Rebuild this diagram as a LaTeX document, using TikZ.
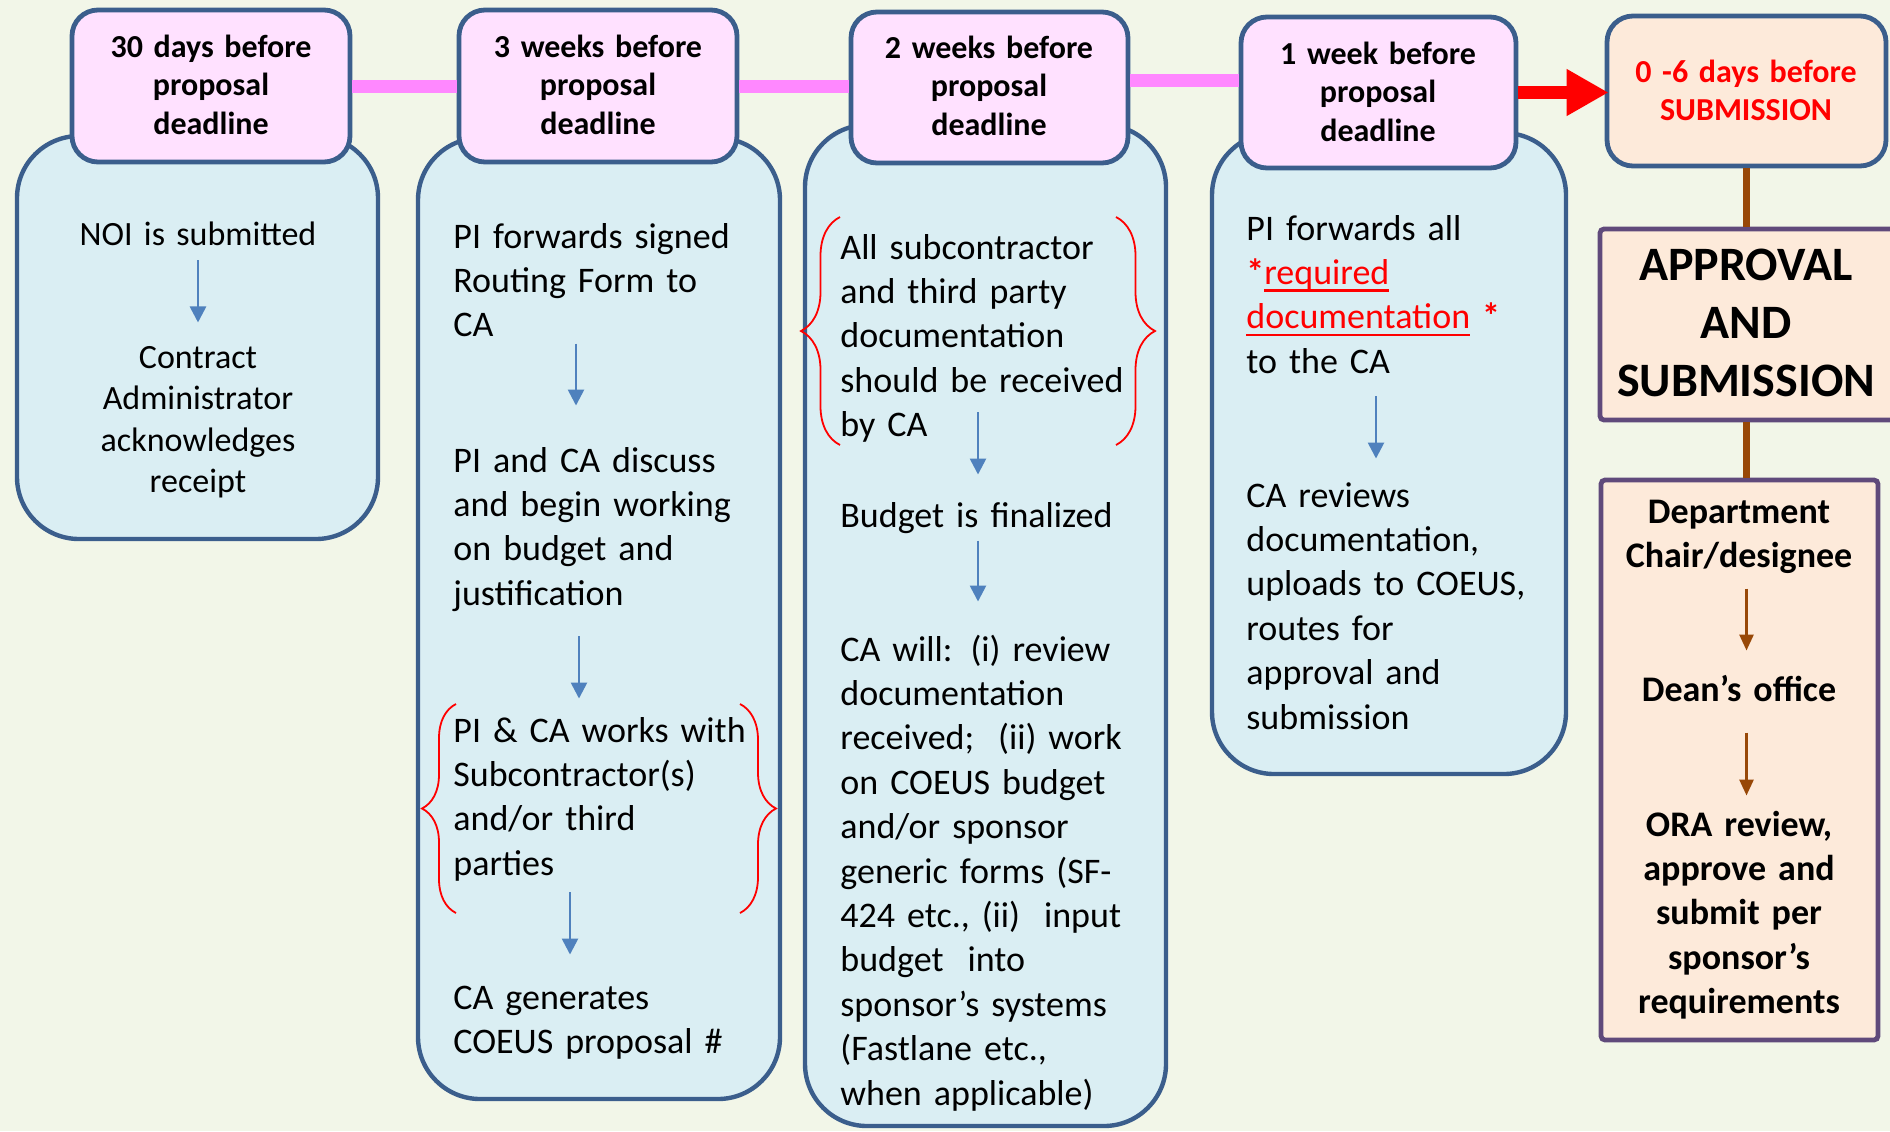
\documentclass[tikz,border=0pt]{standalone}
\usepackage{fontspec}
\setmainfont{Carlito}
\usetikzlibrary{fit,arrows.meta,decorations.pathreplacing}

\definecolor{paper}{RGB}{242,246,232}
\definecolor{edgeblue}{RGB}{59,94,140}
\definecolor{lanefill}{RGB}{218,238,243}
\definecolor{stagepink}{RGB}{255,225,255}
\definecolor{linkpink}{RGB}{255,136,255}
\definecolor{peach}{RGB}{253,234,218}
\definecolor{plum}{RGB}{96,74,123}
\definecolor{rust}{RGB}{152,72,7}
\definecolor{arrowblue}{RGB}{79,129,189}

\newsavebox\ulinebox
\newcommand\markline[1]{\sbox\ulinebox{#1}\rlap{\rule[-3.8pt]{\wd\ulinebox}{1.4pt}}\usebox\ulinebox}

\tikzset{
  lane/.style={draw=edgeblue, line width=2.2pt, fill=lanefill, rounded corners=31pt, inner sep=0pt},
  stage/.style={draw=edgeblue, line width=2.4pt, fill=stagepink, rounded corners=13pt, inner sep=0pt},
  stagetext/.style={font=\bfseries\fontsize{16}{19.25}\selectfont, text width=135pt, align=center,
    anchor=base, inner sep=0pt},
  listbox/.style={draw=plum, line width=2.4pt, fill=peach, rounded corners=2pt, inner sep=0pt},
  note/.style={font=\fontsize{18}{22.2}\selectfont, text width=165pt, align=left, anchor=base west,
    inner sep=0pt, execute at begin node=\strut, execute at end node=\strut},
  notec/.style={font=\fontsize{17}{20.8}\selectfont, text width=170pt, align=center, anchor=base,
    inner sep=0pt, execute at begin node=\strut, execute at end node=\strut},
  chainnote/.style={font=\bfseries\fontsize{18}{22.2}\selectfont, text width=135pt, align=center, anchor=base,
    inner sep=0pt, execute at begin node=\strut, execute at end node=\strut},
  flow/.style={draw=arrowblue, line width=1.3pt, -{Triangle[width=8pt,length=8pt]}},
  handoff/.style={draw=rust, line width=1.4pt, -{Triangle[width=7pt,length=8pt]}},
  tie/.style={draw=rust, line width=3.5pt},
  link/.style={draw=linkpink, line width=6.5pt},
  push/.style={draw=red, line width=6.5pt, -{Triangle[width=22pt,length=21pt]}},
  curly/.style={draw=red, line width=0.9pt, decorate, decoration={brace, amplitude=#1}}
}

\begin{document}
\begin{tikzpicture}[x=0.5pt,y=-0.5pt]
\useasboundingbox (0,0) rectangle (1890,1131);
\fill[paper] (0,0) rectangle (1890,1131);

% lanes under the headers
\node[lane, fit={(17,136) (378,539)}] (lane1) {};
\node[lane, fit={(418,138) (780,1099)}] (lane2) {};
\node[lane, fit={(805,125) (1166,1126)}] (lane3) {};
\node[lane, fit={(1212,133) (1566,774)}] (lane4) {};

% timeline headers
\node[stage, fit={(72,10) (350,162)}] (h1) {};
\node[stage, fit={(459,10) (737,162)}] (h2) {};
\node[stage, fit={(851,12) (1128,163)}] (h3) {};
\node[stage, fit={(1241,17) (1516,168)}] (h4) {};
\node[stage, fill=peach, fit={(1607,16) (1886,166)}] (h5) {};
\node[stagetext] (t1) at (211,57) {30 days before\\proposal\\deadline};
\node[stagetext] (t2) at (598,57) {3 weeks before\\proposal\\deadline};
\node[stagetext] (t3) at (989,58) {2 weeks before\\proposal\\deadline};
\node[stagetext] (t4) at (1378,64) {1 week before\\proposal\\deadline};
\node[stagetext, text=red] (t5) at (1746,82) {0 -6 days before\\SUBMISSION};

\draw[link] (h1.east) -- (h2.west);
\draw[link] (h2.east) -- (h2.east -| h3.west);
\draw[link] ([yshift=3.75pt]h3.east) -- ([yshift=3.75pt]h3.east -| h4.west);
\draw[push, shorten >=-2pt] (h4.east) -- (h4.east -| h5.west);

% approval column
\node[listbox, fit={(1600,229) (1895,420)}] (approve) {};
\node[font=\bfseries\fontsize{24}{29}\selectfont, text width=150pt, align=center, anchor=base,
  inner sep=0pt] (approvetext) at (1746,280) {APPROVAL\\AND\\SUBMISSION};
\node[listbox, fit={(1601,480) (1878,1040)}] (chain) {};
\draw[tie] (h5.south) -- (h5.south |- approve.north);
\draw[tie] (approve.south -| h5.south) -- (h5.south |- chain.north);

\node[chainnote] (dept) at (1739,523) {Department\\Chair/designee};
\node[chainnote] (dean) at (1739,701) {Dean’s office};
\node[chainnote] (ora) at (1739,836) {ORA review,\\approve and\\submit per\\sponsor’s\\requirements};
\draw[handoff, shorten <=3.75pt, shorten >=9.5pt] (dept.south -| h5.south) -- (dean.north -| h5.south);
\draw[handoff, shorten <=9pt, shorten >=4.5pt] (dean.south -| h5.south) -- (ora.north -| h5.south);

% lane 1
\node[notec] (noi) at (198,245) {NOI is submitted};
\node[notec] (ack) at (198,368) {Contract\\Administrator\\acknowledges\\receipt};
\draw[flow, shorten <=1.25pt, shorten >=8pt] (noi) -- (ack);

% lane 2
\node[note] (route) at (453,248) {PI forwards signed\\Routing Form to\\CA};
\node[note] (discuss) at (453,472) {PI and CA discuss\\and begin working\\on budget and\\justification};
\node[note] (thirdp) at (453,742) {PI \& CA works with\\Subcontractor(s)\\and/or third\\parties};
\node[note] (gen) at (453,1009) {CA generates\\COEUS proposal \#};
\draw[flow, shorten <=-3.5pt, shorten >=17.5pt] (route.south -| 576,0) -- (discuss.north -| 576,0);
\draw[flow, shorten <=8.75pt, shorten >=6pt] (discuss.south -| 579,0) -- (thirdp.north -| 579,0);
\draw[flow, shorten <=1.75pt, shorten >=11.5pt] (thirdp.south -| 570,0) -- (gen.north -| 570,0);
\draw[curly=17pt] (456,913) -- (456,704);
\draw[curly=18pt] (740,704) -- (740,913);

% lane 3
\node[note] (subdocs) at (840,259) {All subcontractor\\and third party\\documentation\\should be received\\by CA};
\node[note] (final) at (840,527) {Budget is finalized};
\node[note] (will) at (840,661) {CA will: (i) review\\documentation\\received;\ \ (ii) work\\on COEUS budget\\and/or sponsor\\generic forms (SF-\\424 etc., (ii)\ \ input\\budget\ \ into\\sponsor’s systems\\(Fastlane etc.,\\when applicable)};
\draw[flow, shorten <=-19pt, shorten >=10.5pt] (subdocs.south -| 978,0) -- (final.north -| 978,0);
\draw[flow, shorten <=0pt, shorten >=14pt] (final.south -| 978,0) -- (will.north -| 978,0);
\draw[curly=19.5pt] (840,445) -- (840,217);
\draw[curly=19.5pt] (1116,217) -- (1116,445);

% lane 4
\node[note] (sendall) at (1246,240) {PI forwards all\\\textcolor{red}{\textbf{*}\markline{required}}\\\textcolor{red}{\markline{documentation} \textbf{*}}\\to the CA};
\node[note] (review) at (1246,507) {CA reviews\\documentation,\\uploads to COEUS,\\routes for\\approval and\\submission};
\draw[flow, shorten <=4.75pt, shorten >=8.5pt] (sendall.south -| 1376,0) -- (review.north -| 1376,0);
\end{tikzpicture}
\end{document}
